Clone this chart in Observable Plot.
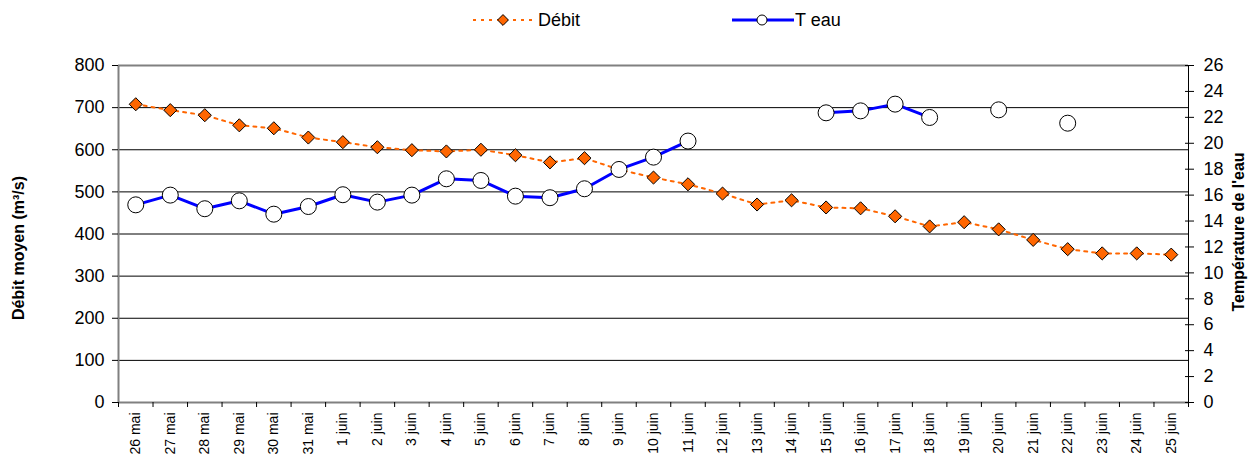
<!DOCTYPE html>
<html>
<head>
<meta charset="utf-8">
<script src="https://cdn.jsdelivr.net/npm/d3@7"></script>
<script src="https://cdn.jsdelivr.net/npm/@observablehq/plot@0.6"></script>
<style>
  html, body { margin: 0; padding: 0; background: #fff; }
  #wrap { width: 1258px; font-family: "Liberation Sans", Arial, sans-serif; }
  #legend { width: 1258px; height: 40px; display: block; }
</style>
</head>
<body>
<div id="wrap"></div>
<script>
// ---- Data ----
const categories = ["26 mai","27 mai","28 mai","29 mai","30 mai","31 mai","1 juin","2 juin","3 juin","4 juin","5 juin","6 juin","7 juin","8 juin","9 juin","10 juin","11 juin","12 juin","13 juin","14 juin","15 juin","16 juin","17 juin","18 juin","19 juin","20 juin","21 juin","22 juin","23 juin","24 juin","25 juin"];
const debit = [708,694,682,658,651,629,618,606,599,596,600,587,570,580,553,534,518,496,470,480,463,461,442,418,428,411,386,364,354,354,351];
const teau = [15.25,16.0,14.95,15.56,14.53,15.12,16.03,15.46,16.0,17.26,17.13,15.92,15.8,16.49,17.98,18.93,20.17,null,null,null,22.35,22.5,23.02,21.99,null,22.58,null,21.55,null,null,null];
const leftTicks = [0,100,200,300,400,500,600,700,800];
const rightTicks = [0,2,4,6,8,10,12,14,16,18,20,22,24,26];
const leftMax = 800, rightMax = 26;

const font = '"Liberation Sans", Arial, sans-serif';
const rows = categories.map((c, i) => ({i, c, debit: debit[i], t: teau[i]}));
const toLeft = t => (t == null ? NaN : t * leftMax / rightMax);

// ---- Legend (above the SVG) ----
const wrap = document.getElementById("wrap");
const lg = d3.select(wrap).append("svg").attr("id","legend").attr("width",1258).attr("height",40);
lg.append("line").attr("x1",473).attr("x2",532).attr("y1",20).attr("y2",20)
  .attr("stroke","#FF6600").attr("stroke-width",2).attr("stroke-dasharray","3,5");
lg.append("path").attr("d", d3.symbol(d3.symbolDiamond2, 75)()).attr("transform","translate(503,20)")
  .attr("fill","#FF6600").attr("stroke","#000").attr("stroke-width",1);
lg.append("text").attr("x",538).attr("y",20).attr("dy","0.35em").attr("font-family",font).attr("font-size",18).text("Débit");
lg.append("line").attr("x1",732).attr("x2",794).attr("y1",20).attr("y2",20)
  .attr("stroke","#0000FF").attr("stroke-width",3);
lg.append("circle").attr("cx",762).attr("cy",20).attr("r",5).attr("fill","#fff").attr("stroke","#000");
lg.append("text").attr("x",795).attr("y",20).attr("dy","0.35em").attr("font-family",font).attr("font-size",18).text("T eau");

// ---- Chart ----
const chart = Plot.plot({
  width: 1258,
  height: 424,
  marginTop: 25,
  marginBottom: 62,
  marginLeft: 118,
  marginRight: 70,
  style: {fontFamily: font, background: "#fff", overflow: "visible"},
  x: {type: "linear", domain: [0, categories.length]},
  y: {domain: [0, leftMax]},
  marks: [
    // gridlines
    Plot.ruleY(leftTicks.filter(v => v > 0 && v < leftMax), {stroke: "#000", strokeWidth: 1}),
    Plot.ruleY([leftMax], {stroke: "#808080", strokeWidth: 2}),
    Plot.ruleY([0], {stroke: "#808080", strokeWidth: 2}),
    Plot.ruleX([0], {stroke: "#808080", strokeWidth: 2}),
    Plot.ruleX([categories.length], {stroke: "#000", strokeWidth: 1}),
    // left axis
    Plot.axisY({anchor: "left", ticks: leftTicks, tickSize: 6, tickPadding: 8, fontSize: 18, label: null, stroke: "#000"}),
    // right axis (temperature mapped onto same vertical range)
    Plot.axisY({anchor: "right", ticks: rightTicks.map(t => t * leftMax / rightMax),
      tickFormat: v => String(Math.round(v * rightMax / leftMax)),
      tickSize: 9, dx: -4, tickPadding: 10, fontSize: 18, label: null}),
    // x axis ticks at boundaries
    Plot.axisX({ticks: d3.range(0, categories.length + 1), tickFormat: () => "", tickSize: 5, label: null}),
    // x labels at centers
    Plot.axisX({ticks: categories.map((c, i) => i + 0.5), tickFormat: v => categories[Math.floor(v)],
      tickSize: 0, tickPadding: 10, tickRotate: -90, fontSize: 14, label: null}),
    // axis titles
    Plot.text(["Débit moyen (m³/s)"], {frameAnchor: "left", textAnchor: "middle", dx: -100, dy: 14, rotate: -90,
      fontSize: 16, fontWeight: "bold", fill: "#000"}),
    Plot.text(["Température de l'eau"], {frameAnchor: "right", textAnchor: "middle", dx: 50, dy: -2, rotate: -90,
      fontSize: 16, fontWeight: "bold", fill: "#000"}),
    // Débit series
    Plot.line(rows, {x: d => d.i + 0.5, y: "debit", stroke: "#FF6600", strokeWidth: 2, strokeDasharray: "3,5"}),
    Plot.dot(rows, {x: d => d.i + 0.5, y: "debit", symbol: "diamond2", r: 5.9, fill: "#FF6600", stroke: "#000", strokeWidth: 1}),
    // T eau series
    Plot.line(rows, {x: d => d.i + 0.5, y: d => toLeft(d.t), stroke: "#0000FF", strokeWidth: 3}),
    Plot.dot(rows.filter(d => d.t != null), {x: d => d.i + 0.5, y: d => toLeft(d.t), r: 8, fill: "#fff", stroke: "#000", strokeWidth: 1})
  ]
});
wrap.appendChild(chart);
</script>
</body>
</html>
